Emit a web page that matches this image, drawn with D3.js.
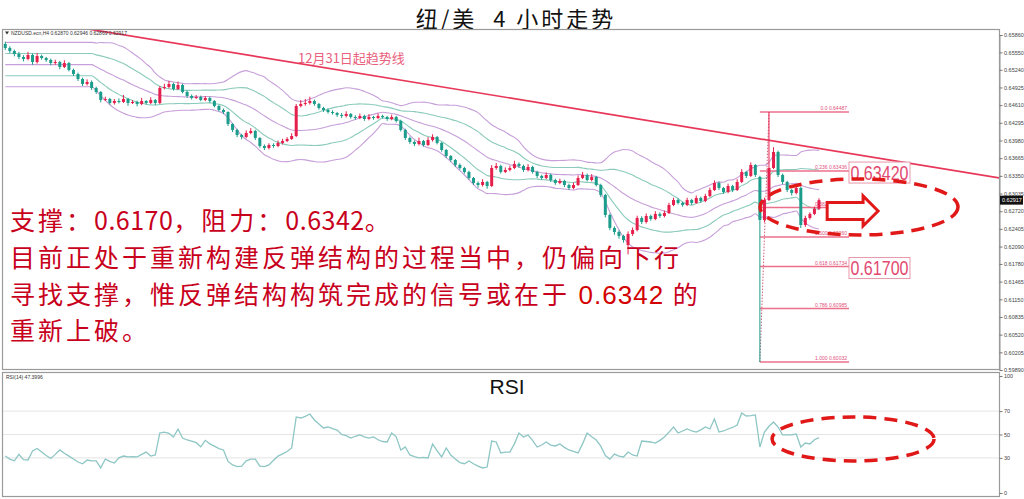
<!DOCTYPE html>
<html><head><meta charset="utf-8">
<script src="https://cdn.jsdelivr.net/npm/d3@7"></script>
<style>body{margin:0;background:#fff;}svg{display:block;}</style>
</head><body>
<svg id="c" width="1024" height="499"></svg>
<script>
// ---------- DATA (NZD/USD H4) ----------
const opens = [
0.65700,0.65629,0.65575,0.65522,0.65468,0.65433,0.65504,0.65379,0.65486,0.65450,
0.65415,0.65361,0.65379,0.65290,0.65361,0.65237,0.65165,0.65076,0.64987,0.65023,
0.64916,0.64845,0.64702,0.64720,0.64649,0.64684,0.64666,0.64720,0.64649,0.64666,
0.64631,0.64684,0.64649,0.64702,0.64649,0.64916,0.64934,0.64987,0.64898,0.64969,
0.64845,0.64773,0.64738,0.64755,0.64702,0.64738,0.64684,0.64595,0.64524,0.64488,
0.64274,0.64168,0.64078,0.64043,0.64114,0.64150,0.64025,0.63882,0.63847,0.63900,
0.63882,0.63936,0.63971,0.64007,0.64060,0.64595,0.64631,0.64649,0.64684,0.64631,
0.64559,0.64524,0.64488,0.64470,0.64435,0.64417,0.64453,0.64399,0.64381,0.64417,
0.64363,0.64399,0.64381,0.64417,0.64399,0.64363,0.64399,0.64328,0.64168,0.64025,
0.63954,0.63918,0.63971,0.63900,0.63989,0.64043,0.63936,0.63811,0.63704,0.63633,
0.63544,0.63490,0.63419,0.63312,0.63223,0.63187,0.63241,0.63169,0.63490,0.63526,
0.63419,0.63455,0.63490,0.63562,0.63526,0.63455,0.63508,0.63419,0.63348,0.63312,
0.63366,0.63276,0.63223,0.63259,0.63187,0.63134,0.63187,0.63312,0.63366,0.63276,
0.63330,0.63187,0.63009,0.62653,0.62421,0.62350,0.62279,0.62118,0.62314,0.62385,
0.62599,0.62528,0.62635,0.62581,0.62671,0.62635,0.62688,0.62831,0.62920,0.62867,
0.62831,0.62920,0.62867,0.62956,0.62902,0.62991,0.63098,0.63223,0.63134,0.63063,
0.63169,0.63098,0.63241,0.63419,0.63348,0.63544,0.63330,0.62564,0.62920,0.63490,
0.63775,0.63366,0.63241,0.63098,0.63045,0.63134,0.62474,0.62599,0.62671,0.62763];
const highs = [
0.65740,0.65660,0.65600,0.65560,0.65500,0.65560,0.65530,0.65540,0.65510,0.65470,
0.65440,0.65420,0.65400,0.65410,0.65380,0.65260,0.65190,0.65100,0.65070,0.65050,
0.64940,0.64860,0.64760,0.64740,0.64720,0.64730,0.64790,0.64740,0.64700,0.64690,
0.64740,0.64700,0.64750,0.64720,0.64950,0.64990,0.65040,0.65010,0.65030,0.64990,
0.64870,0.64800,0.64790,0.64780,0.64770,0.64760,0.64700,0.64610,0.64550,0.64500,
0.64290,0.64190,0.64100,0.64160,0.64200,0.64170,0.64040,0.63910,0.63930,0.63930,
0.63980,0.64010,0.64040,0.64110,0.64630,0.64700,0.64720,0.64760,0.64710,0.64650,
0.64580,0.64550,0.64520,0.64490,0.64470,0.64500,0.64470,0.64430,0.64460,0.64440,
0.64450,0.64420,0.64460,0.64440,0.64420,0.64440,0.64420,0.64350,0.64190,0.64050,
0.63980,0.64030,0.63990,0.64040,0.64090,0.64060,0.63950,0.63830,0.63720,0.63650,
0.63570,0.63510,0.63440,0.63330,0.63250,0.63290,0.63260,0.63540,0.63580,0.63550,
0.63500,0.63530,0.63620,0.63590,0.63550,0.63560,0.63530,0.63440,0.63370,0.63410,
0.63390,0.63300,0.63300,0.63280,0.63210,0.63230,0.63360,0.63420,0.63390,0.63380,
0.63350,0.63210,0.63030,0.62680,0.62450,0.62380,0.62300,0.62360,0.62430,0.62640,
0.62630,0.62680,0.62660,0.62720,0.62700,0.62730,0.62870,0.62960,0.62950,0.62890,
0.62960,0.62940,0.63000,0.62980,0.63030,0.63140,0.63270,0.63250,0.63150,0.63210,
0.63190,0.63290,0.63470,0.63440,0.63590,0.63560,0.63350,0.62960,0.64487,0.63860,
0.63800,0.63390,0.63260,0.63120,0.63180,0.63160,0.62640,0.62700,0.62800,0.62950];
const lows = [
0.65590,0.65540,0.65480,0.65430,0.65390,0.65410,0.65330,0.65350,0.65420,0.65380,
0.65320,0.65330,0.65250,0.65270,0.65210,0.65130,0.65040,0.64950,0.64960,0.64880,
0.64810,0.64660,0.64680,0.64620,0.64620,0.64640,0.64650,0.64600,0.64630,0.64590,
0.64610,0.64620,0.64630,0.64610,0.64630,0.64890,0.64910,0.64870,0.64880,0.64820,
0.64740,0.64710,0.64720,0.64680,0.64680,0.64650,0.64570,0.64500,0.64450,0.64240,
0.64130,0.64040,0.64000,0.64020,0.64090,0.63990,0.63850,0.63810,0.63820,0.63850,
0.63860,0.63910,0.63950,0.63990,0.64040,0.64570,0.64600,0.64620,0.64600,0.64530,
0.64490,0.64460,0.64440,0.64400,0.64380,0.64390,0.64370,0.64350,0.64360,0.64330,
0.64340,0.64350,0.64360,0.64370,0.64330,0.64340,0.64300,0.64140,0.63990,0.63920,
0.63880,0.63890,0.63870,0.63880,0.63960,0.63910,0.63780,0.63670,0.63600,0.63510,
0.63460,0.63390,0.63280,0.63190,0.63140,0.63160,0.63120,0.63150,0.63460,0.63390,
0.63400,0.63430,0.63470,0.63490,0.63420,0.63430,0.63390,0.63310,0.63280,0.63290,
0.63240,0.63190,0.63200,0.63150,0.63100,0.63110,0.63170,0.63290,0.63250,0.63250,
0.63160,0.62970,0.62610,0.62380,0.62300,0.62230,0.62160,0.61950,0.62280,0.62360,
0.62490,0.62500,0.62550,0.62560,0.62600,0.62610,0.62670,0.62810,0.62840,0.62800,
0.62810,0.62830,0.62850,0.62870,0.62880,0.62970,0.63080,0.63100,0.63030,0.63040,
0.63060,0.63080,0.63220,0.63310,0.63330,0.63330,0.60032,0.62520,0.62900,0.63470,
0.63330,0.63200,0.63060,0.63000,0.63020,0.62420,0.62440,0.62570,0.62650,0.62740];
const closes = [
0.65629,0.65575,0.65522,0.65468,0.65433,0.65504,0.65379,0.65486,0.65450,0.65415,
0.65361,0.65379,0.65290,0.65361,0.65237,0.65165,0.65076,0.64987,0.65023,0.64916,
0.64845,0.64702,0.64720,0.64649,0.64684,0.64666,0.64720,0.64649,0.64666,0.64631,
0.64684,0.64649,0.64702,0.64649,0.64916,0.64934,0.64987,0.64898,0.64969,0.64845,
0.64773,0.64738,0.64755,0.64702,0.64738,0.64684,0.64595,0.64524,0.64488,0.64274,
0.64168,0.64078,0.64043,0.64114,0.64150,0.64025,0.63882,0.63847,0.63900,0.63882,
0.63936,0.63971,0.64007,0.64060,0.64595,0.64631,0.64649,0.64684,0.64631,0.64559,
0.64524,0.64488,0.64470,0.64435,0.64417,0.64453,0.64399,0.64381,0.64417,0.64363,
0.64399,0.64381,0.64417,0.64399,0.64363,0.64399,0.64328,0.64168,0.64025,0.63954,
0.63918,0.63971,0.63900,0.63989,0.64043,0.63936,0.63811,0.63704,0.63633,0.63544,
0.63490,0.63419,0.63312,0.63223,0.63187,0.63241,0.63169,0.63490,0.63526,0.63419,
0.63455,0.63490,0.63562,0.63526,0.63455,0.63508,0.63419,0.63348,0.63312,0.63366,
0.63276,0.63223,0.63259,0.63187,0.63134,0.63187,0.63312,0.63366,0.63276,0.63330,
0.63187,0.63009,0.62653,0.62421,0.62350,0.62279,0.62207,0.62314,0.62385,0.62599,
0.62528,0.62635,0.62581,0.62671,0.62635,0.62688,0.62831,0.62920,0.62867,0.62831,
0.62920,0.62867,0.62956,0.62902,0.62991,0.63098,0.63223,0.63134,0.63063,0.63169,
0.63098,0.63241,0.63419,0.63348,0.63544,0.63366,0.62564,0.62920,0.63490,0.63775,
0.63366,0.63241,0.63098,0.63045,0.63134,0.62474,0.62599,0.62671,0.62763,0.62917];
const rsiValues = [
31.6,29,27.5,33,28.5,28.2,36,38,35,32,
29.5,33,36.8,34,31.5,29,26.5,25,28.2,27.5,
27.4,21.5,29,27,25.6,30,31.6,30.8,31,30.8,
33,35,31.6,32.5,51.3,52,51,47.9,54.7,47,
45.3,44.4,43,39.5,45,42,40,38,36.8,27,
24,22.5,23,27.5,29,29,23,22.5,24,28,
31.5,33.5,35.5,38.5,65,64.1,65.5,67.5,62.4,59,
55.6,56.4,55,53.8,50,49,47,48.5,49.6,48,
47,47.9,45.5,44,43.6,51.3,48,36.8,39.3,32.5,
31,30,30.5,29.9,41.9,36,30.8,38.5,32.5,29,
26,25,27.4,25,23,21.4,22.2,44.4,43.6,34.2,
35,35,42,51.3,47.9,49.6,45,39.3,41,43.6,
41,40.2,41.9,39,36.8,35.5,34.2,42,51.3,48,
45.3,40,32,29,33.3,31.5,30.8,35,32.5,31.6,
44.4,44,43.6,42.7,45,47.9,52,56.4,51.3,53,
54.7,53,52.1,54,56.4,54.7,63.2,52.1,53,54.7,
56,58.1,68.4,65.8,66.2,66.7,39.3,52,57,60.7,
56.4,49.6,49.6,49.6,50.4,39.3,42.7,41.9,45.5,47.4];
const priceTicks = [0.65860,0.65550,0.65240,0.64925,0.64610,0.64295,0.63980,0.63665,0.63350,0.63035,
  0.62720,0.62405,0.62090,0.61780,0.61465,0.61150,0.60835,0.60520,0.60205,0.59890];
const rsiTicks = [100,70,50,30,0];
const rsiLevels = [70,50,30];
const lastPrice = 0.62917;
const fibLevels = [0,0.236,0.382,0.5,0.618,0.786,1];
const fibHigh = 0.64487, fibLow = 0.60032;
const fibStartIdx = 166, fibHighIdx = 168, fibEndIdx = 185.6;
const trendIdx = [18.2, 218.6];
const trendPrice = [0.65967, 0.63312];
const boxLabels = [{text:"0.63420", level:0.236},{text:"0.61700", level:0.618}];
const titleText = "纽/美  4 小时走势";
const symbolText = "NZDUSD.ecn,H4  0.62870 0.62946 0.62869 0.62917";
const rsiLabel = "RSI(14) 47.3996";
const trendLabel = "12月31日起趋势线";

// ---------- SCALES ----------
const svg = d3.select("#c");
const x = d3.scaleLinear().domain([-0.5, 218.6]).range([3, 999]);
const y = d3.scaleLinear().domain([0.59890, 0.65860]).range([370, 35]);
const yr = d3.scaleLinear().domain([0, 100]).range([493, 376]);
const idx = d3.range(closes.length);
const RED = "#e5204c", TEAL = "#1c9c8a";
const CJK = "'Noto Sans CJK SC','Noto Sans',sans-serif";
const LAT = "'Liberation Sans',Arial,sans-serif";

// title
svg.append("text").attr("x", 516).attr("y", 26.5).attr("text-anchor", "middle")
  .attr("font-family", CJK).attr("font-size", 22).attr("fill", "#111")
  .style("letter-spacing", "3px").style("white-space", "pre").text(titleText);

// panels
svg.append("rect").attr("x", 2.5).attr("y", 29.5).attr("width", 997).attr("height", 340)
  .attr("fill", "#fff").attr("stroke", "#9a9a9a").attr("stroke-width", 1.2);
svg.append("rect").attr("x", 2.5).attr("y", 372.5).attr("width", 997).attr("height", 124)
  .attr("fill", "#fff").attr("stroke", "#9a9a9a").attr("stroke-width", 1.2);

const defs = svg.append("defs");
defs.append("clipPath").attr("id", "mclip").append("rect").attr("x", 3).attr("y", 30).attr("width", 996).attr("height", 339);
defs.append("clipPath").attr("id", "rclip").append("rect").attr("x", 3).attr("y", 373).attr("width", 996).attr("height", 123);

const main = svg.append("g").attr("clip-path", "url(#mclip)");

// Bollinger bands (20)
const bb = idx.map(i => {
  const s = Math.max(0, i - 19), e = Math.max(19, i);
  const w = closes.slice(s, e + 1);
  const m = d3.mean(w);
  const sd = Math.sqrt(d3.mean(w, v => (v - m) * (v - m)));
  return {i, m, sd};
});
const bandLine = k => d3.line().x(d => x(d.i)).y(d => y(d.m + k * d.sd)).curve(d3.curveMonotoneX);
[[2, "#c79fd9"], [-2, "#c79fd9"], [0, "#c79fd9"], [1, "#8ccbbb"], [-1, "#8ccbbb"]].forEach(([k, c]) => {
  main.append("path").datum(bb).attr("d", bandLine(k)).attr("fill", "none")
    .attr("stroke", c).attr("stroke-width", 1.1);
});

// trendline
main.append("line").attr("x1", x(trendIdx[0])).attr("y1", y(trendPrice[0]))
  .attr("x2", x(trendIdx[1])).attr("y2", y(trendPrice[1]))
  .attr("stroke", "#e8385a").attr("stroke-width", 1.7);

// fibonacci
const fibPrice = l => fibHigh - l * (fibHigh - fibLow);
main.append("line").attr("x1", x(fibStartIdx)).attr("y1", y(fibLow))
  .attr("x2", x(fibHighIdx)).attr("y2", y(fibHigh))
  .attr("stroke", "#d0607c").attr("stroke-width", 1).attr("stroke-dasharray", "1.5,1.5");
fibLevels.forEach(l => {
  main.append("line").attr("x1", x(fibStartIdx)).attr("x2", x(fibEndIdx))
    .attr("y1", y(fibPrice(l))).attr("y2", y(fibPrice(l)))
    .attr("stroke", "#ec6f8c").attr("stroke-width", 1.6);
  main.append("text").attr("x", x(fibEndIdx) - 2).attr("y", y(fibPrice(l)) - 2)
    .attr("text-anchor", "end").attr("font-family", LAT).attr("font-size", 5)
    .attr("fill", "#e0507a")
    .text((l === 0 ? "0.0" : l.toFixed(3)) + "  " + fibPrice(l).toFixed(5));
});

// candles
const cw = 3;
const cg = main.append("g");
cg.selectAll("line.w").data(idx).join("line")
  .attr("x1", i => x(i)).attr("x2", i => x(i))
  .attr("y1", i => y(highs[i])).attr("y2", i => y(lows[i]))
  .attr("stroke", i => closes[i] >= opens[i] ? RED : TEAL).attr("stroke-width", 1);
cg.selectAll("rect").data(idx).join("rect")
  .attr("x", i => x(i) - cw / 2).attr("width", cw)
  .attr("y", i => y(Math.max(opens[i], closes[i])))
  .attr("height", i => Math.max(1, Math.abs(y(opens[i]) - y(closes[i]))))
  .attr("fill", i => closes[i] >= opens[i] ? RED : TEAL);

// trend label
main.append("text").attr("x", 298).attr("y", 63).attr("font-family", CJK)
  .attr("font-size", 13).attr("fill", "#e8607c").text(trendLabel);

// symbol label
svg.append("path").attr("d", "M5,31.5 L9,31.5 L7,34.5 Z").attr("fill", "#333");
svg.append("text").attr("x", 11).attr("y", 35).attr("font-family", LAT).attr("font-size", 5)
  .attr("fill", "#333").text(symbolText);

// price axis
const ax = svg.append("g").attr("transform", "translate(999.5,0)")
  .call(d3.axisRight(y).tickValues(priceTicks).tickFormat(d3.format(".5f")).tickSize(3).tickPadding(1.5));
ax.select(".domain").attr("stroke", "#9a9a9a");
ax.selectAll("line").attr("stroke", "#777");
ax.selectAll("text").attr("font-family", LAT).attr("font-size", 5.5).attr("fill", "#444");
svg.append("rect").attr("x", 1000).attr("y", y(lastPrice) - 4.5).attr("width", 23).attr("height", 9).attr("fill", "#111");
svg.append("text").attr("x", 1002).attr("y", y(lastPrice) + 2).attr("font-family", LAT)
  .attr("font-size", 5.5).attr("fill", "#fff").text(lastPrice.toFixed(5));

// level boxes
boxLabels.forEach(b => {
  const cy = y(fibPrice(b.level)) + 1;
  svg.append("rect").attr("x", x(fibEndIdx)).attr("y", cy - 10).attr("width", 61).attr("height", 21)
    .attr("fill", "#fff").attr("stroke", "#e898aa").attr("stroke-width", 1);
  svg.append("text").attr("x", x(fibEndIdx) + 1.5).attr("y", cy + 7.5).attr("font-family", LAT)
    .attr("font-size", 20).attr("fill", "#e24a70").attr("textLength", 58)
    .attr("lengthAdjust", "spacingAndGlyphs").text(b.text);
});

// main ellipse + arrow
const eCx = x(187.8), eCy = y(0.62795);
svg.append("ellipse").attr("cx", eCx).attr("cy", eCy).attr("rx", 99).attr("ry", 28)
  .attr("fill", "none").attr("stroke", "#e01818").attr("stroke-width", 3.5)
  .attr("stroke-dasharray", "13,8");
const ax0 = x(180.8), ax1 = x(192), ac = y(0.62724), ah = ax1 - 15;
svg.append("path").attr("d", `M${ax0},${ac-8.5} L${ah},${ac-8.5} L${ah},${ac-15} L${ax1},${ac} L${ah},${ac+15} L${ah},${ac+8.5} L${ax0},${ac+8.5} Z`)
  .attr("fill", "#fff").attr("stroke", "#e01818").attr("stroke-width", 3).attr("stroke-linejoin", "miter");

// ---------- RSI ----------
const rg = svg.append("g").attr("clip-path", "url(#rclip)");
rsiLevels.forEach(v => rg.append("line").attr("x1", 3).attr("x2", 999)
  .attr("y1", yr(v)).attr("y2", yr(v)).attr("stroke", "#e4e4e4").attr("stroke-width", 1));
rg.append("path").datum(idx).attr("fill", "none").attr("stroke", "#8dc6c4").attr("stroke-width", 1.3)
  .attr("d", d3.line().x(i => x(i)).y(i => yr(rsiValues[i])));
const rax = svg.append("g").attr("transform", "translate(999.5,0)")
  .call(d3.axisRight(yr).tickValues(rsiTicks).tickSize(3).tickPadding(1.5));
rax.select(".domain").remove();
rax.selectAll("line").attr("stroke", "#777");
rax.selectAll("text").attr("font-family", LAT).attr("font-size", 5.5).attr("fill", "#444");
svg.append("text").attr("x", 6).attr("y", 379).attr("font-family", LAT).attr("font-size", 5)
  .attr("fill", "#333").text(rsiLabel);
svg.append("text").attr("x", 507).attr("y", 394).attr("text-anchor", "middle").attr("font-family", LAT)
  .attr("font-size", 21).attr("fill", "#111").text("RSI");
svg.append("ellipse").attr("cx", x(186.5)).attr("cy", yr(46.2)).attr("rx", 81).attr("ry", 22)
  .attr("fill", "none").attr("stroke", "#e01818").attr("stroke-width", 3.5)
  .attr("stroke-dasharray", "13,8");

// ---------- ANNOTATION TEXT ----------
const RT = "#c8001c";
const tg = svg.append("g").attr("font-family", CJK).attr("font-size", 25).attr("fill", RT)
  .style("letter-spacing", "3px").style("white-space", "pre");
const t1 = tg.append("text").attr("x", 10).attr("y", 230);
t1.append("tspan").text("支撑：");
t1.append("tspan").style("letter-spacing", "0.5px").text("0.6170");
t1.append("tspan").text("，阻力：");
t1.append("tspan").style("letter-spacing", "0.5px").text("0.6342");
t1.append("tspan").text("。");
tg.append("text").attr("x", 10).attr("y", 267).text("目前正处于重新构建反弹结构的过程当中，仍偏向下行");
const t3 = tg.append("text").attr("x", 10).attr("y", 304);
t3.append("tspan").text("寻找支撑，惟反弹结构构筑完成的信号或在于 ");
t3.append("tspan").attr("font-family", LAT).attr("font-size", 26).style("letter-spacing", "1px")
  .attr("fill", "#d20000").text("0.6342");
t3.append("tspan").text(" 的");
tg.append("text").attr("x", 10).attr("y", 340).text("重新上破。");
</script>
</body></html>
